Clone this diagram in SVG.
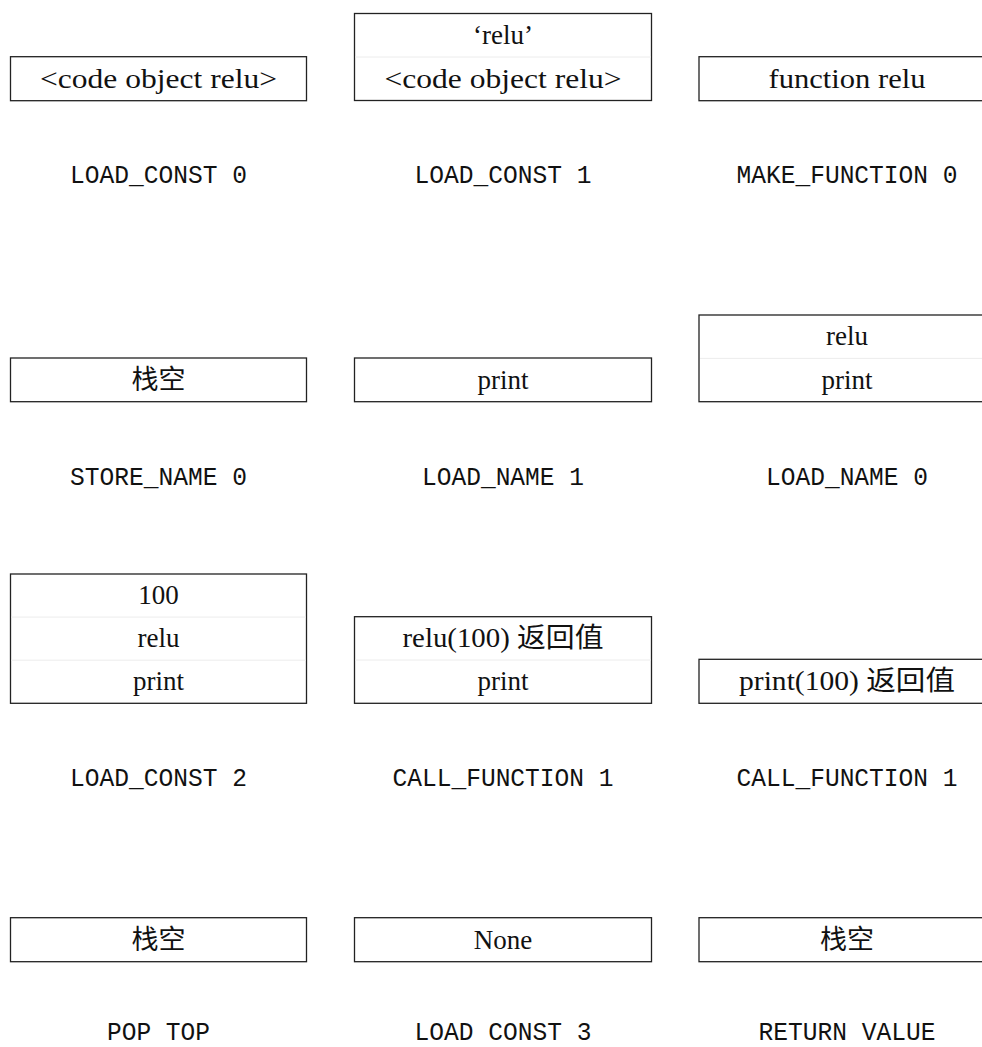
<svg xmlns="http://www.w3.org/2000/svg" width="982" height="1047" viewBox="0 0 982 1047">
<style>
.box{fill:#fff;stroke:#222;stroke-width:1.3}
.div{stroke:#ececec;stroke-width:1}
.v{font-family:"Liberation Serif","Noto Sans CJK SC",serif;font-size:27px;fill:#111;text-anchor:middle}
.op{font-family:"Liberation Mono",monospace;font-size:26px;fill:#111;text-anchor:middle}
</style>
<rect width="982" height="1047" fill="#fff"/>
<g id="connectors"></g>

<g id="s1">
<rect class="box" x="10.5" y="56.7" width="296" height="44"/>
<text class="v" x="158.5" y="87.5" textLength="237" lengthAdjust="spacingAndGlyphs">&lt;code object relu&gt;</text>
<text class="op" x="158.5" y="183.3" textLength="177" lengthAdjust="spacingAndGlyphs">LOAD_CONST 0</text>
</g>

<g id="s2">
<rect class="box" x="354.5" y="13.5" width="297" height="87"/>
<line class="div" x1="355" y1="57" x2="651" y2="57"/>
<text class="v" x="503" y="44">‘relu’</text>
<text class="v" x="503" y="87.5" textLength="237" lengthAdjust="spacingAndGlyphs">&lt;code object relu&gt;</text>
<text class="op" x="503" y="183.3" textLength="177" lengthAdjust="spacingAndGlyphs">LOAD_CONST 1</text>
</g>

<g id="s3">
<rect class="box" x="699" y="56.7" width="296" height="44"/>
<text class="v" x="847" y="87.5" textLength="157" lengthAdjust="spacingAndGlyphs">function relu</text>
<text class="op" x="847" y="183.3" textLength="221" lengthAdjust="spacingAndGlyphs">MAKE_FUNCTION 0</text>
</g>

<g id="s4">
<rect class="box" x="10.5" y="358" width="296" height="43.7"/>
<text class="v" x="158.5" y="388.7">栈空</text>
<text class="op" x="158.5" y="484.5" textLength="177" lengthAdjust="spacingAndGlyphs">STORE_NAME 0</text>
</g>

<g id="s5">
<rect class="box" x="354.5" y="358" width="297" height="43.7"/>
<text class="v" x="503" y="388.7">print</text>
<text class="op" x="503" y="484.5" textLength="162" lengthAdjust="spacingAndGlyphs">LOAD_NAME 1</text>
</g>

<g id="s6">
<rect class="box" x="699" y="315" width="296" height="86.7"/>
<line class="div" x1="700" y1="358.4" x2="982" y2="358.4"/>
<text class="v" x="847" y="345.4">relu</text>
<text class="v" x="847" y="388.7">print</text>
<text class="op" x="847" y="484.5" textLength="162" lengthAdjust="spacingAndGlyphs">LOAD_NAME 0</text>
</g>

<g id="s7">
<rect class="box" x="10.5" y="574" width="296" height="129.3"/>
<line class="div" x1="11" y1="617.1" x2="306" y2="617.1"/>
<line class="div" x1="11" y1="660.2" x2="306" y2="660.2"/>
<text class="v" x="158.5" y="604.1">100</text>
<text class="v" x="158.5" y="647.2">relu</text>
<text class="v" x="158.5" y="690.3">print</text>
<text class="op" x="158.5" y="786" textLength="177" lengthAdjust="spacingAndGlyphs">LOAD_CONST 2</text>
</g>

<g id="s8">
<rect class="box" x="354.5" y="616.7" width="297" height="86.6"/>
<line class="div" x1="355" y1="660" x2="651" y2="660"/>
<text class="v" x="503" y="647" textLength="201" lengthAdjust="spacingAndGlyphs">relu(100) 返回值</text>
<text class="v" x="503" y="690.3">print</text>
<text class="op" x="503" y="786" textLength="221" lengthAdjust="spacingAndGlyphs">CALL_FUNCTION 1</text>
</g>

<g id="s9">
<rect class="box" x="699" y="659.3" width="296" height="44"/>
<text class="v" x="847" y="690.3" textLength="216" lengthAdjust="spacingAndGlyphs">print(100) 返回值</text>
<text class="op" x="847" y="786" textLength="221" lengthAdjust="spacingAndGlyphs">CALL_FUNCTION 1</text>
</g>

<g id="s10">
<rect class="box" x="10.5" y="917.7" width="296" height="44"/>
<text class="v" x="158.5" y="948.7">栈空</text>
<text class="op" x="158.5" y="1040" textLength="103" lengthAdjust="spacingAndGlyphs">POP TOP</text>
</g>

<g id="s11">
<rect class="box" x="354.5" y="917.7" width="297" height="44"/>
<text class="v" x="503" y="948.7">None</text>
<text class="op" x="503" y="1040" textLength="177" lengthAdjust="spacingAndGlyphs">LOAD CONST 3</text>
</g>

<g id="s12">
<rect class="box" x="699" y="917.7" width="296" height="44"/>
<text class="v" x="847" y="948.7">栈空</text>
<text class="op" x="847" y="1040" textLength="177" lengthAdjust="spacingAndGlyphs">RETURN VALUE</text>
</g>
</svg>
